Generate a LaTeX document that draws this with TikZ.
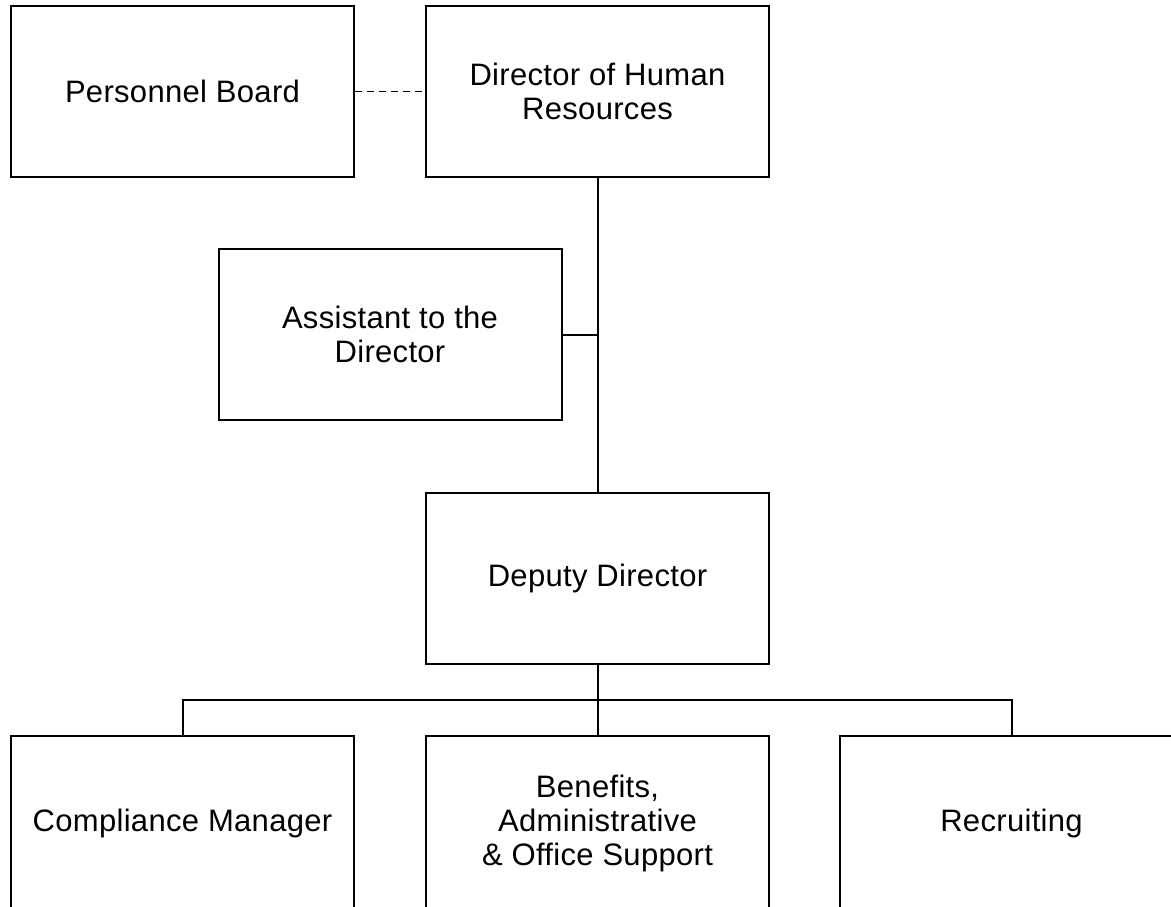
\documentclass[tikz,border=0pt]{standalone}
\usepackage{fontspec}
\setmainfont{Liberation Sans}[LetterSpace=1]
\begin{document}
\begin{tikzpicture}[x=1pt,y=-1pt,
  box/.style={draw, line width=2pt, minimum width=343pt, minimum height=171pt,
    align=center, font=\fontsize{31}{34}\selectfont, inner sep=0pt},
  lowbox/.style={box, minimum height=175pt},
  link/.style={line width=2pt},
  dashlink/.style={line width=1.4pt, dash pattern=on 7pt off 5pt}]
\useasboundingbox (0,0) rectangle (1171,906);
\clip (0,0) rectangle (1171,906);
\fill[white] (0,0) rectangle (1171,906);
\node[box] (pb) at (182.5,91.5) {Personnel Board};
\node[box] (dhr) at (597.5,91.5) {Director of Human\\Resources};
\node[box] (asst) at (390,334.5) {Assistant to the\\Director};
\node[box] (dep) at (597.5,578.5) {Deputy Director};
\node[lowbox] (comp) at (182.5,823.5) {Compliance Manager};
\node[lowbox] (ben) at (597.5,823.5) {Benefits,\\Administrative\\\& Office Support};
\node[lowbox] (rec) at (1011.5,823.5) {Recruiting};
\coordinate (bus) at (597.5,700);
\draw[dashlink] (pb.east) -- (dhr.west);
\draw[link] (dhr.south) -- (dep.north);
\draw[link] (asst.east) -- (asst.east -| dhr.south);
\draw[link] (dep.south) -- (bus);
\draw[link] (comp.north) -- (comp.north |- bus) -- (rec.north |- bus) -- (rec.north);
\draw[link] (bus) -- (ben.north);
\end{tikzpicture}
\end{document}
